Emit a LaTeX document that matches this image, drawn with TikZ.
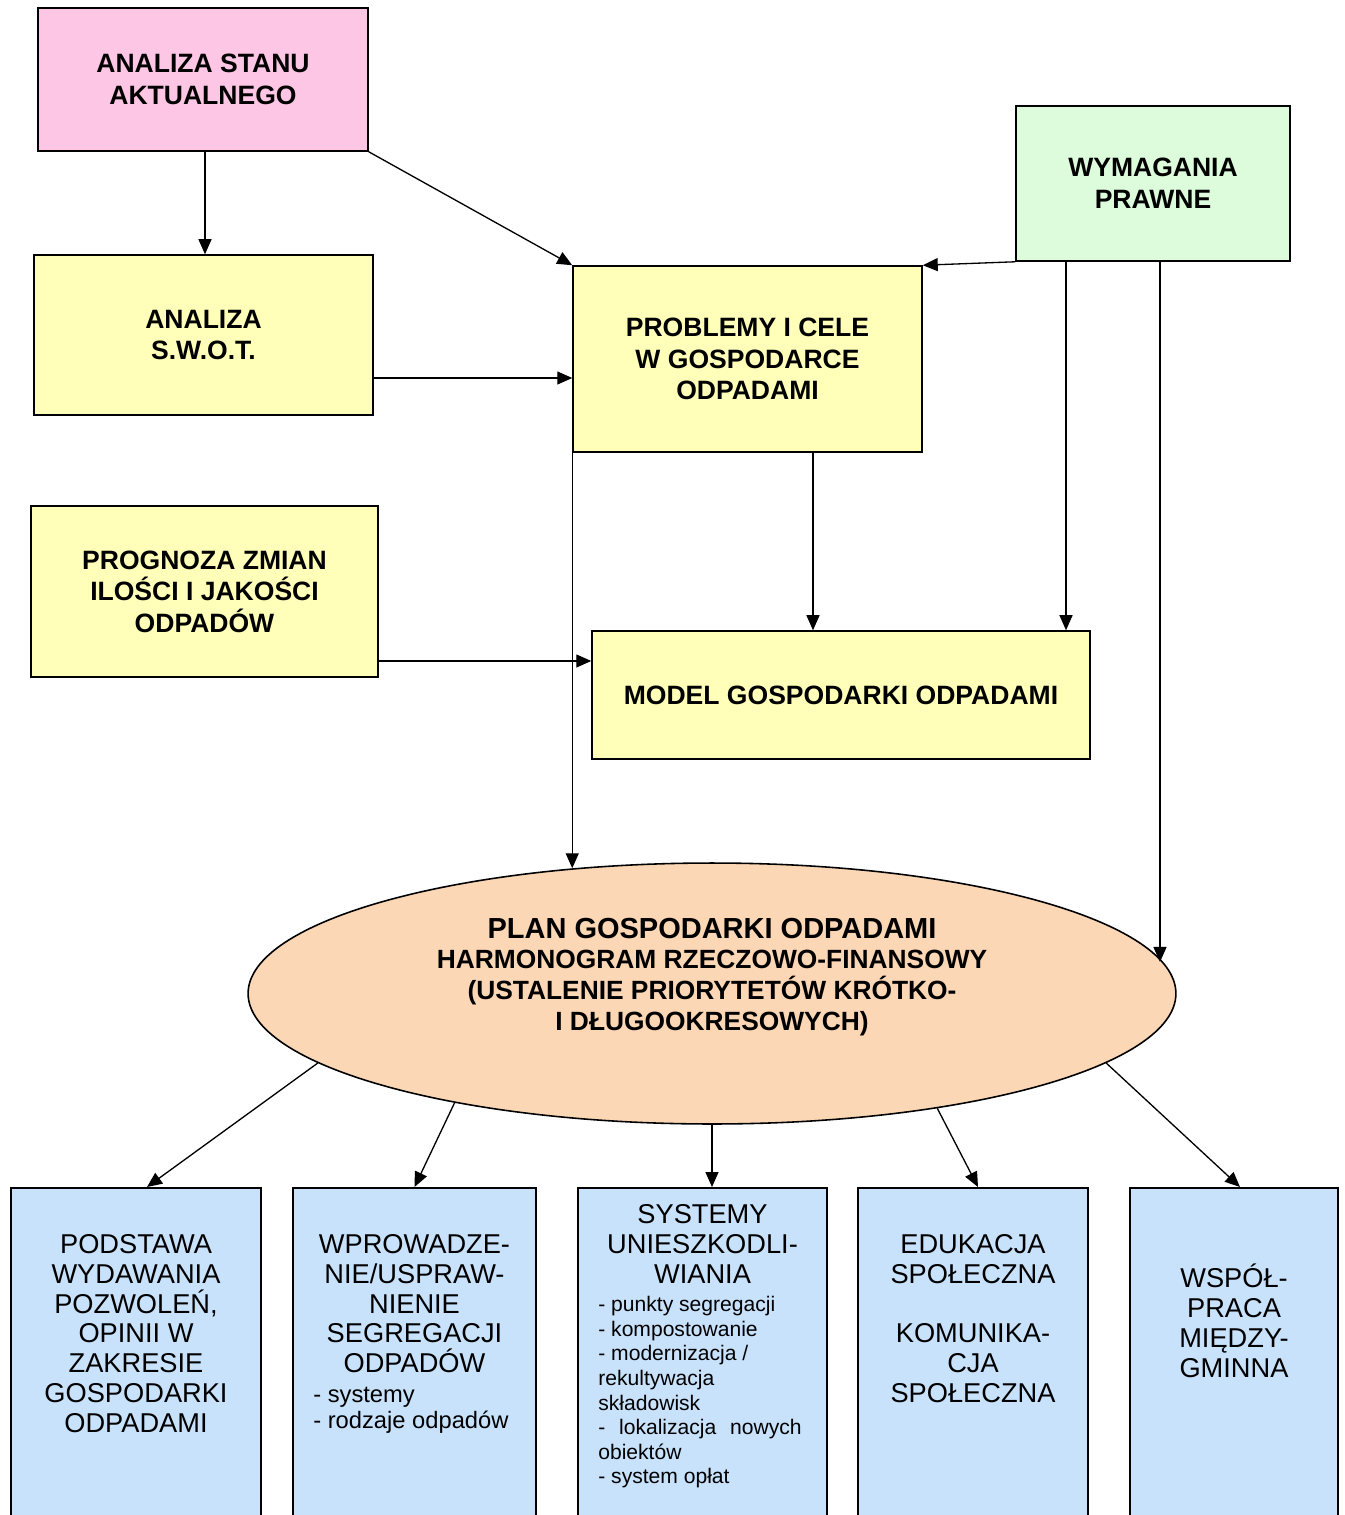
\documentclass[tikz,border=0pt]{standalone}
\usepackage{fontspec}
\setmainfont{Liberation Sans}
\usepackage{tikz}
\usetikzlibrary{positioning}
\usetikzlibrary{arrows.meta}
\usetikzlibrary{shapes.geometric}
\usepackage{xcolor}
\definecolor{stanpink}{HTML}{FDC6E4}
\definecolor{boxyellow}{HTML}{FFFFB9}
\definecolor{lawgreen}{HTML}{DCFCDC}
\definecolor{planpeach}{HTML}{FCD7B6}
\definecolor{taskblue}{HTML}{C8E2FC}

\begin{document}
\begin{tikzpicture}[x=0.02cm, y=-0.02cm,
  box/.style={draw, line width=0.9pt, inner sep=0pt, align=center,
    font=\bfseries\fontsize{15.1}{18}\selectfont},
  taskbox/.style={draw, line width=0.9pt, fill=taskblue, anchor=north,
    minimum height=6.96cm, inner sep=0pt},
  tasktxt/.style={anchor=north, inner sep=0pt, align=center,
    font=\fontsize{15.5}{17}\selectfont},
  arr/.style={-{Triangle[length=3mm,width=2.6mm]}, line width=0.75pt}]
  \useasboundingbox (0,0) rectangle (1345,1515);

  % upper boxes
  \node[box, fill=stanpink, minimum width=6.6cm, minimum height=2.86cm]
    (stan) at (203,79.5) {ANALIZA STANU\\AKTUALNEGO};
  \node[box, fill=boxyellow, minimum width=6.78cm, minimum height=3.2cm]
    (swot) at (203.5,335) {ANALIZA\\S.W.O.T.};
  \node[box, fill=boxyellow, minimum width=6.98cm, minimum height=3.72cm]
    (cele) at (747.5,359) {PROBLEMY I CELE\\W GOSPODARCE\\ODPADAMI};
  \node[box, fill=lawgreen, minimum width=5.48cm, minimum height=3.1cm]
    (prawo) at (1153,183.5) {WYMAGANIA\\PRAWNE};
  \node[box, fill=boxyellow, minimum width=6.94cm, minimum height=3.42cm]
    (prognoza) at (204.5,591.5) {PROGNOZA ZMIAN\\ILOŚCI I JAKOŚCI\\ODPADÓW};
  \node[box, fill=boxyellow, minimum width=9.96cm, minimum height=2.56cm]
    (model) at (841,695) {MODEL GOSPODARKI ODPADAMI};

  % plan
  \node[draw, ellipse, line width=0.9pt, fill=planpeach, inner sep=0pt,
    minimum width=18.56cm, minimum height=5.22cm] (plan) at (712,993.5) {};
  \node[align=center, inner sep=0pt, font=\bfseries\fontsize{15}{17.6}\selectfont]
    (plantxt) at (712,977) {{\fontsize{16.5}{19}\selectfont PLAN GOSPODARKI ODPADAMI}\\
    HARMONOGRAM RZECZOWO-FINANSOWY\\(USTALENIE PRIORYTETÓW KRÓTKO-\\I DŁUGOOKRESOWYCH)};

  % lower boxes
  \node[taskbox, minimum width=5cm] (pozw) at (136,1187) {};
  \node[taskbox, minimum width=4.86cm] (segr) at (414.5,1187) {};
  \node[taskbox, minimum width=4.98cm] (unsz) at (702.5,1187) {};
  \node[taskbox, minimum width=4.6cm] (eduk) at (973,1187) {};
  \node[taskbox, minimum width=4.16cm] (gmin) at (1234,1187) {};

  \node[tasktxt] (pozwtxt) at ([yshift=-0.94cm]pozw.north)
    {PODSTAWA\\WYDAWANIA\\POZWOLEŃ,\\OPINII W\\ZAKRESIE\\GOSPODARKI\\ODPADAMI};
  \node[tasktxt] (segrtxt) at ([yshift=-0.94cm]segr.north)
    {WPROWADZE-\\NIE/USPRAW-\\NIENIE\\SEGREGACJI\\ODPADÓW};
  \node[anchor=north west, inner sep=0pt, align=left,
    font=\fontsize{13.5}{14.7}\selectfont] (segrlist) at (313,1387)
    {- systemy\\- rodzaje odpadów};
  \node[tasktxt] (unsztxt) at ([yshift=-0.34cm]unsz.north)
    {SYSTEMY\\UNIESZKODLI-\\WIANIA};
  \node[anchor=north west, inner sep=0pt, align=left,
    font=\fontsize{12}{14}\selectfont] (unszlist) at (598,1296)
    {- punkty segregacji\\- kompostowanie\\- modernizacja /\\rekultywacja\\składowisk\\
    - \hspace{4.5pt}lokalizacja \hspace{4.5pt}nowych\\obiektów\\- system opłat};
  \node[tasktxt] (eduktxt) at ([yshift=-0.94cm]eduk.north)
    {EDUKACJA\\SPOŁECZNA\\[17pt]KOMUNIKA-\\CJA\\SPOŁECZNA};
  \node[tasktxt] (gmintxt) at ([yshift=-1.54cm]gmin.north)
    {WSPÓŁ-\\PRACA\\MIĘDZY-\\GMINNA};

  % connectors
  \draw[arr] ([xshift=0.04cm]stan.south) coordinate (a1) -- (a1 |- swot.north);
  \draw[arr] (stan.south east) -- (cele.north west);
  \draw[arr] (prawo.south west) -- (cele.north east);
  \draw[arr] ([yshift=-0.86cm]swot.east) coordinate (s1) -- (s1 -| cele.west);
  \draw[arr] ([xshift=1.31cm]cele.south) coordinate (c1) -- (c1 |- model.north);
  \draw[arr] ([xshift=-1.74cm]prawo.south) coordinate (p1) -- (p1 |- model.north);
  \draw[arr] ([yshift=-1.39cm]prognoza.east) coordinate (g1) -- (g1 -| model.west);
  \draw[arr] (cele.south west) -- (cele.south west |- plan.138);
  \draw[arr] ([xshift=0.14cm]prawo.south) coordinate (p2) -- (p2 |- plan.4);
  \draw[arr] (plan.190) -- ([xshift=0.22cm]pozw.north);
  \draw[arr] (plan.203) -- (segr.north);
  \draw[arr] (plan.south) -- (plan.south |- unsz.north);
  \draw[arr] (plan.333.6) -- ([xshift=0.1cm]eduk.north);
  \draw[arr] (plan.350) -- ([xshift=0.12cm]gmin.north);
\end{tikzpicture}
\end{document}
